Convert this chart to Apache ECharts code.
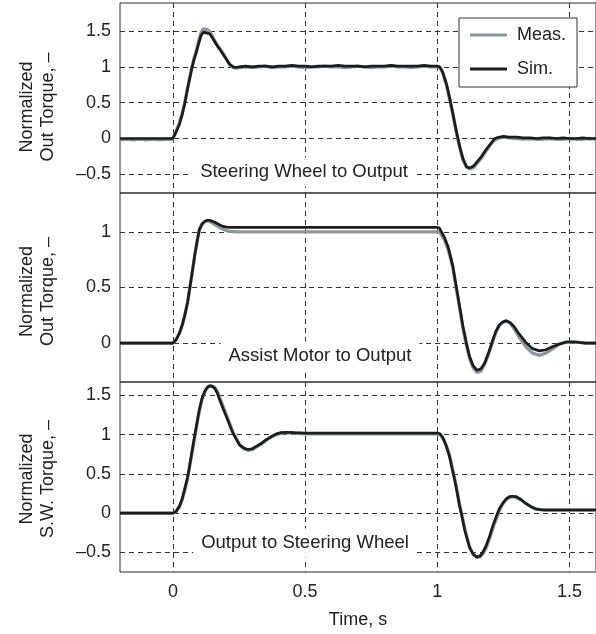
<!DOCTYPE html>
<html>
<head>
<meta charset="utf-8">
<script src="https://cdn.jsdelivr.net/npm/echarts@6/dist/echarts.min.js"></script>
<style>
  html, body { margin: 0; padding: 0; background: #ffffff; }
  #chart { width: 596px; height: 634px; }
</style>
</head>
<body>
<div id="chart"></div>
<script>
// Step responses of the steering system: measured vs. simulated, three transfer paths.
const FONT = '"Liberation Sans", Arial, Helvetica, sans-serif';

const xTicks = [0, 0.5, 1, 1.5];
const yTicksTop = [-0.5, 0, 0.5, 1, 1.5];
const yTicksMid = [0, 0.5, 1];
const yTicksBot = [-0.5, 0, 0.5, 1, 1.5];

const seriesNames = ['Meas.', 'Sim.'];
const panelTitles = ['Steering Wheel to Output', 'Assist Motor to Output', 'Output to Steering Wheel'];
const yNames = ['Normalized\nOut Torque, \u2013', 'Normalized\nOut Torque, \u2013', 'Normalized\nS.W. Torque, \u2013'];
const xName = 'Time, s';

// Panel 1: steering wheel torque to output torque
const tTop = [
  -0.2, -0.175, -0.15, -0.125, -0.1, -0.075, -0.05, -0.025, 0,
  0.012, 0.025, 0.035, 0.044, 0.055, 0.07, 0.08, 0.088, 0.098, 0.107,
  0.115, 0.122, 0.13, 0.139, 0.15, 0.16, 0.17, 0.18, 0.189, 0.2,
  0.214, 0.228, 0.24,
  0.25, 0.275, 0.3, 0.325, 0.35, 0.375, 0.4, 0.425, 0.45, 0.475,
  0.5, 0.525, 0.55, 0.575, 0.6, 0.625, 0.65, 0.675, 0.7, 0.725,
  0.75, 0.775, 0.8, 0.825, 0.85, 0.875, 0.9, 0.925, 0.95, 0.975,
  1.0, 1.009, 1.02, 1.034, 1.047, 1.059, 1.071, 1.084, 1.097, 1.11,
  1.12, 1.128, 1.138, 1.147, 1.165, 1.185, 1.2, 1.217, 1.235, 1.25, 1.27,
  1.3, 1.325, 1.35, 1.375, 1.4, 1.425, 1.45, 1.475, 1.5, 1.525, 1.55, 1.575, 1.6
];
const measTop = [
  -0.02, -0.01, -0.02, -0.01, -0.02, -0.01, -0.02, -0.01, -0.01,
  0.1, 0.22, 0.35, 0.49, 0.7, 0.97, 1.12, 1.22, 1.37, 1.48,
  1.53, 1.54, 1.52, 1.49, 1.42, 1.35, 1.29, 1.24, 1.19, 1.12,
  1.03, 0.99, 0.98,
  0.99, 1.0, 0.99, 1.0, 1.01, 0.99, 1.0, 1.0, 1.01, 1.0,
  0.99, 1.0, 1.0, 1.01, 1.0, 1.0, 0.99, 1.0, 1.01, 1.0,
  0.99, 1.0, 1.0, 1.01, 1.0, 1.0, 0.99, 1.0, 1.01, 1.0,
  1.0, 0.99, 0.92, 0.75, 0.54, 0.33, 0.1, -0.12, -0.3, -0.4,
  -0.42, -0.42, -0.4, -0.36, -0.28, -0.17, -0.09, -0.02, 0.01, 0.02, 0.01,
  0.0, -0.01, 0.0, -0.01, -0.01, 0.0, -0.01, -0.01, 0.0, -0.01, -0.01, 0.0, -0.01
];
const simTop = [
  0, 0, 0, 0, 0, 0, 0, 0, 0,
  0.09, 0.2, 0.33, 0.47, 0.68, 0.95, 1.1, 1.19, 1.33, 1.44,
  1.48, 1.48, 1.47, 1.46, 1.4, 1.34, 1.28, 1.23, 1.18, 1.12,
  1.04, 1.0, 0.99,
  1.0, 1.01, 1.0, 1.01, 1.01, 1.0, 1.01, 1.01, 1.02, 1.01,
  1.01, 1.0, 1.01, 1.01, 1.01, 1.02, 1.01, 1.01, 1.01, 1.0,
  1.01, 1.01, 1.01, 1.02, 1.01, 1.01, 1.01, 1.01, 1.02, 1.01,
  1.01, 1.0, 0.93, 0.77, 0.56, 0.35, 0.12, -0.1, -0.28, -0.39,
  -0.41, -0.4, -0.38, -0.34, -0.26, -0.15, -0.08, 0.0, 0.02, 0.03, 0.02,
  0.02, 0.01, 0.01, 0.0, 0.01, 0.01, 0.0, 0.01, 0.0, 0.0, 0.01, 0.0, 0.0
];

// Panel 2: assist motor torque to output torque
const tMid = [
  -0.2, -0.1, 0,
  0.012, 0.025, 0.035, 0.044, 0.055, 0.063, 0.072, 0.082, 0.092, 0.1,
  0.11, 0.12, 0.13, 0.139, 0.15, 0.164, 0.176, 0.189, 0.2, 0.214, 0.24,
  0.3, 0.4, 0.5, 0.6, 0.7, 0.8, 0.9, 0.98,
  1.0, 1.008, 1.015, 1.027, 1.04, 1.05, 1.059, 1.068, 1.078, 1.088,
  1.097, 1.11, 1.122, 1.135, 1.15, 1.165, 1.179, 1.195, 1.21, 1.222,
  1.235, 1.248, 1.26, 1.275, 1.29, 1.31, 1.337, 1.36, 1.387, 1.41,
  1.437, 1.46, 1.488, 1.52, 1.56, 1.6
];
const measMid = [
  0, 0, 0,
  0.03, 0.09, 0.16, 0.24, 0.36, 0.48, 0.62, 0.78, 0.92, 1.02,
  1.07, 1.09, 1.1, 1.095, 1.08, 1.06, 1.04, 1.025, 1.015, 1.005, 1.0,
  1.0, 1.0, 1.0, 1.0, 1.0, 1.0, 1.0, 1.0,
  1.0, 1.0, 0.99, 0.93, 0.85, 0.76, 0.67, 0.54, 0.4, 0.26,
  0.13, -0.02, -0.14, -0.22, -0.265, -0.25, -0.19, -0.09, 0.02, 0.1,
  0.16, 0.19, 0.2, 0.18, 0.13, 0.05, -0.04, -0.09, -0.11, -0.09,
  -0.05, -0.01, 0.01, 0.01, 0.0, 0.0
];
const simMid = [
  0, 0, 0,
  0.03, 0.09, 0.16, 0.24, 0.36, 0.48, 0.62, 0.78, 0.92, 1.02,
  1.07, 1.095, 1.105, 1.105, 1.095, 1.08, 1.065, 1.05, 1.045, 1.04, 1.04,
  1.04, 1.04, 1.04, 1.04, 1.04, 1.04, 1.04, 1.04,
  1.04, 1.035, 1.02, 0.95, 0.87, 0.78, 0.69, 0.56, 0.42, 0.28,
  0.15, 0.0, -0.12, -0.2, -0.245, -0.23, -0.18, -0.08, 0.03, 0.11,
  0.165, 0.19, 0.2, 0.185, 0.15, 0.08, 0.0, -0.05, -0.07, -0.06,
  -0.03, -0.01, 0.01, 0.01, 0.0, 0.0
];

// Panel 3: output torque to steering wheel torque
const tBot = [
  -0.2, -0.1, 0,
  0.012, 0.025, 0.035, 0.044, 0.055, 0.063, 0.072, 0.082, 0.092, 0.1,
  0.11, 0.12, 0.13, 0.139,
  0.148, 0.158, 0.168, 0.177, 0.19, 0.202, 0.215, 0.227, 0.24, 0.252,
  0.268, 0.284, 0.3, 0.315, 0.335, 0.353, 0.372, 0.391, 0.41, 0.429,
  0.46, 0.5, 0.6, 0.7, 0.8, 0.9, 0.98,
  1.0, 1.01, 1.021, 1.033, 1.046, 1.055, 1.065, 1.075, 1.084, 1.094,
  1.103, 1.113, 1.122, 1.135, 1.148, 1.16, 1.172, 1.185, 1.198, 1.21,
  1.223, 1.235, 1.248, 1.26, 1.273, 1.285, 1.298,
  1.317, 1.336, 1.355, 1.374, 1.4, 1.45, 1.5, 1.55, 1.6
];
const measBot = [
  0, 0, 0,
  0.02, 0.08, 0.17, 0.28, 0.43, 0.58, 0.76, 0.96, 1.15, 1.3,
  1.45, 1.54, 1.6, 1.62,
  1.62, 1.6, 1.55, 1.47, 1.36, 1.25, 1.14, 1.03, 0.95, 0.87,
  0.82, 0.8, 0.81, 0.84, 0.88, 0.925, 0.97, 1.0, 1.02, 1.025,
  1.02, 1.01, 1.01, 1.01, 1.01, 1.01, 1.01,
  1.01, 1.0, 0.96, 0.87, 0.74, 0.6, 0.45, 0.28, 0.11, -0.04,
  -0.19, -0.32, -0.43, -0.52, -0.56, -0.56, -0.52, -0.44, -0.32, -0.19,
  -0.07, 0.04, 0.12, 0.17, 0.2, 0.21, 0.2,
  0.17, 0.12, 0.08, 0.05, 0.04, 0.04, 0.04, 0.04, 0.04
];
const simBot = [
  0, 0, 0,
  0.02, 0.09, 0.18, 0.3, 0.45, 0.6, 0.78, 0.98, 1.17, 1.32,
  1.46, 1.55, 1.6, 1.62,
  1.615, 1.59, 1.53, 1.44, 1.33, 1.23, 1.12, 1.02, 0.94, 0.87,
  0.83, 0.81, 0.82, 0.85, 0.89, 0.935, 0.975, 1.01, 1.025, 1.03,
  1.025, 1.02, 1.02, 1.02, 1.02, 1.02, 1.02,
  1.02, 1.01, 0.96, 0.86, 0.72, 0.58, 0.43, 0.26, 0.09, -0.06,
  -0.21, -0.33, -0.44, -0.52, -0.56, -0.55, -0.5, -0.41, -0.29, -0.16,
  -0.04, 0.06, 0.13, 0.18, 0.21, 0.215, 0.21,
  0.17, 0.12, 0.08, 0.05, 0.04, 0.04, 0.04, 0.04, 0.04
];

const panels = [
  { t: tTop, meas: measTop, sim: simTop, yMin: -0.76, yMax: 1.89, yTicks: yTicksTop, top: 3, height: 190, namePad: [0, 18, 0, 0], titleX: 304, titleY: 172 },
  { t: tMid, meas: measMid, sim: simMid, yMin: -0.35, yMax: 1.35, yTicks: yTicksMid, top: 193, height: 189, namePad: [0, 8, 0, 0], titleX: 320, titleY: 356 },
  { t: tBot, meas: measBot, sim: simBot, yMin: -0.75, yMax: 1.67, yTicks: yTicksBot, top: 382, height: 190, namePad: [0, 4, 0, 0], titleX: 305, titleY: 543 }
];

const pairs = (t, v) => t.map((x, i) => [x, v[i]]);
const fmtTick = v => (v < 0 ? '\u2013' + Math.abs(v) : String(v));

const gridLine = { show: true, lineStyle: { color: '#333333', width: 1, type: [5, 4] } };
const textColor = '#222222';
const measColor = '#8c969c';
const simColor = '#1c1c1c';

const grids = [], xAxes = [], yAxes = [], series = [], graphics = [];

panels.forEach((p, i) => {
  const last = i === panels.length - 1;
  grids.push({ left: 120, width: 476, top: p.top, height: p.height, show: true,
    borderColor: '#2a2a2a', borderWidth: 1, backgroundColor: 'transparent' });

  xAxes.push({
    type: 'value', gridIndex: i, min: -0.2, max: 1.6,
    axisLine: { show: false },
    axisTick: { show: last, inside: true, length: 5, customValues: xTicks, lineStyle: { color: '#333' } },
    axisLabel: { show: last, customValues: xTicks, fontSize: 18, fontFamily: FONT, color: textColor, margin: 11 },
    splitLine: gridLine,
    name: last ? xName : '', nameLocation: 'middle', nameGap: 39,
    nameTextStyle: { fontSize: 18, fontFamily: FONT, color: textColor }
  });

  yAxes.push({
    type: 'value', gridIndex: i, min: p.yMin, max: p.yMax,
    axisLine: { show: false },
    axisTick: { show: true, inside: true, length: 4, customValues: p.yTicks, lineStyle: { color: '#333' } },
    axisLabel: { customValues: p.yTicks, fontSize: 18, fontFamily: FONT, color: textColor, margin: 9, formatter: fmtTick },
    splitLine: gridLine,
    name: yNames[i], nameLocation: 'middle', nameGap: 61, nameRotate: 90,
    nameTextStyle: { fontSize: 18, fontFamily: FONT, color: textColor, lineHeight: 21, padding: p.namePad }
  });

  series.push({
    name: seriesNames[0], type: 'line', xAxisIndex: i, yAxisIndex: i,
    data: pairs(p.t, p.meas), showSymbol: false, symbol: 'none', z: 2,
    itemStyle: { color: measColor }, lineStyle: { color: measColor, width: 3.3 }
  });
  series.push({
    name: seriesNames[1], type: 'line', xAxisIndex: i, yAxisIndex: i,
    data: pairs(p.t, p.sim), showSymbol: false, symbol: 'none', z: 3,
    itemStyle: { color: simColor }, lineStyle: { color: simColor, width: 2.7 }
  });

  graphics.push({
    type: 'text', x: p.titleX, y: p.titleY, z: 10,
    style: { text: panelTitles[i], font: '18.5px ' + FONT, fill: textColor,
      align: 'center', verticalAlign: 'middle', backgroundColor: '#ffffff', padding: [5, 8] }
  });
});

const chart = echarts.init(document.getElementById('chart'), null, { renderer: 'canvas' });
chart.setOption({
  animation: false,
  backgroundColor: '#ffffff',
  grid: grids,
  xAxis: xAxes,
  yAxis: yAxes,
  series: series,
  graphic: graphics,
  legend: {
    data: seriesNames, orient: 'vertical', left: 459, top: 18,
    icon: 'path://M0,0L37,0L37,3L0,3Z', symbolKeepAspect: true,
    padding: [8, 11, 9, 11], itemWidth: 37, itemHeight: 18, itemGap: 16,
    borderColor: '#333', borderWidth: 1, backgroundColor: '#ffffff', z: 10,
    textStyle: { fontSize: 18, fontFamily: FONT, color: textColor, padding: [0, 0, 0, 5] }
  }
});
</script>
</body>
</html>
